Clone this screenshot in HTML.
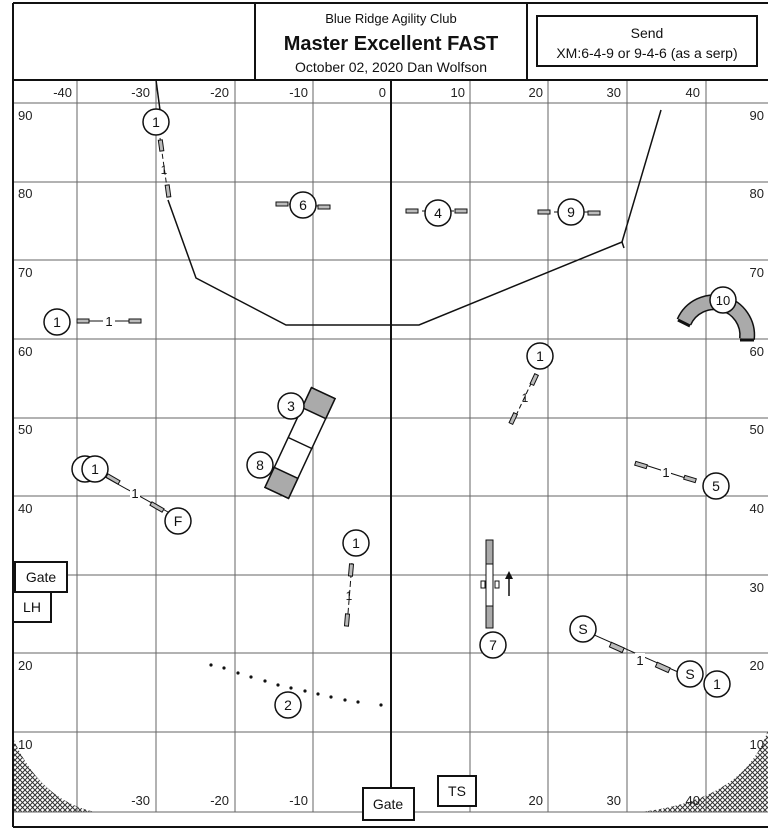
<!DOCTYPE html>
<html><head><meta charset="utf-8"><style>
html,body{margin:0;padding:0;background:#fff;}
svg{display:block;font-family:"Liberation Sans",Arial,sans-serif;}
</style></head><body>
<svg width="768" height="834" viewBox="0 0 768 834" xmlns="http://www.w3.org/2000/svg">
<defs>
<pattern id="hx" width="5" height="5" patternUnits="userSpaceOnUse">
<path d="M0 0L5 5M5 0L0 5" stroke="#333" stroke-width="1"/>
</pattern>
</defs>
<rect width="768" height="834" fill="#fff"/>
<!-- hatched corners -->
<path d="M13 738 Q40 800 95 812 L13 812Z" fill="url(#hx)"/>
<path d="M768 730 Q745 800 640 812 L768 812Z" fill="url(#hx)"/>
<!-- grid -->
<g stroke="#666" stroke-width="1">
<line x1="77" y1="80" x2="77" y2="812"/>
<line x1="156" y1="80" x2="156" y2="812"/>
<line x1="235" y1="80" x2="235" y2="812"/>
<line x1="313" y1="80" x2="313" y2="812"/>
<line x1="470" y1="80" x2="470" y2="812"/>
<line x1="548" y1="80" x2="548" y2="812"/>
<line x1="627" y1="80" x2="627" y2="812"/>
<line x1="706" y1="80" x2="706" y2="812"/>
<line x1="13" y1="103" x2="768" y2="103"/>
<line x1="13" y1="182" x2="768" y2="182"/>
<line x1="13" y1="260" x2="768" y2="260"/>
<line x1="13" y1="339" x2="768" y2="339"/>
<line x1="13" y1="418" x2="768" y2="418"/>
<line x1="13" y1="496" x2="768" y2="496"/>
<line x1="13" y1="575" x2="768" y2="575"/>
<line x1="13" y1="653" x2="768" y2="653"/>
<line x1="13" y1="732" x2="768" y2="732"/>
<line x1="13" y1="812" x2="768" y2="812"/>
</g>
<line x1="391" y1="80" x2="391" y2="790" stroke="#111" stroke-width="2"/>
<!-- frame & header -->
<g stroke="#111" stroke-width="2" fill="none">
<line x1="13" y1="3" x2="768" y2="3"/>
<line x1="13" y1="3" x2="13" y2="827"/>
<line x1="13" y1="827" x2="768" y2="827"/>
<line x1="13" y1="80" x2="768" y2="80"/>
<line x1="255" y1="3" x2="255" y2="80"/>
<line x1="527" y1="3" x2="527" y2="80"/>
<rect x="537" y="16" width="220" height="50"/>
</g>
<g font-size="13" fill="#111" text-anchor="middle">
<text x="391" y="23">Blue Ridge Agility Club</text>
<text x="391" y="50" font-size="20" font-weight="bold">Master Excellent FAST</text>
<text x="391" y="72" font-size="14">October 02, 2020  Dan Wolfson</text>
<text x="647" y="38" font-size="14">Send</text>
<text x="647" y="58" font-size="14">XM:6-4-9 or 9-4-6 (as a serp)</text>
</g>
<!-- axis labels -->
<g font-size="13" fill="#222" text-anchor="end">
<text x="72" y="97">-40</text><text x="150" y="97">-30</text><text x="229" y="97">-20</text><text x="308" y="97">-10</text><text x="386" y="97">0</text>
<text x="465" y="97">10</text><text x="543" y="97">20</text><text x="621" y="97">30</text><text x="700" y="97">40</text>
<text x="150" y="805">-30</text><text x="229" y="805">-20</text><text x="308" y="805">-10</text><text x="543" y="805">20</text><text x="621" y="805">30</text><text x="700" y="805">40</text>
<text x="764" y="120">90</text><text x="764" y="198">80</text><text x="764" y="277">70</text><text x="764" y="356">60</text><text x="764" y="434">50</text><text x="764" y="513">40</text><text x="764" y="592">30</text><text x="764" y="670">20</text><text x="764" y="749">10</text>
</g>
<g font-size="13" fill="#222">
<text x="18" y="120">90</text><text x="18" y="198">80</text><text x="18" y="277">70</text><text x="18" y="356">60</text><text x="18" y="434">50</text><text x="18" y="513">40</text><text x="18" y="670">20</text><text x="18" y="749">10</text>
</g>
<!-- fence -->
<polyline points="156,80 160,110" fill="none" stroke="#111" stroke-width="1.5"/>
<polyline points="168,200 196,278 286,325 419,325 622,242 624,248" fill="none" stroke="#111" stroke-width="1.5"/>
<line x1="622" y1="242" x2="661" y2="110" stroke="#111" stroke-width="1.5"/>
<!-- jumps -->
<g stroke="#111" stroke-width="1" fill="#bbb">
<line x1="160" y1="138" x2="168" y2="195" stroke-dasharray="5,3"/>
<rect x="159" y="140" width="4" height="11" transform="rotate(-8 161 145)"/>
<rect x="166" y="185" width="4" height="12" transform="rotate(-8 168 191)"/>
<line x1="289" y1="204" x2="318" y2="206"/><rect x="276" y="202" width="12" height="4"/><rect x="318" y="205" width="12" height="4"/>
<line x1="422" y1="211" x2="454" y2="211"/><rect x="406" y="209" width="12" height="4"/><rect x="455" y="209" width="12" height="4"/>
<line x1="554" y1="212" x2="588" y2="212"/><rect x="538" y="210" width="12" height="4"/><rect x="588" y="211" width="12" height="4"/>
<line x1="88" y1="321" x2="134" y2="321"/><rect x="77" y="319" width="12" height="4"/><rect x="129" y="319" width="12" height="4"/>
<line x1="535" y1="375" x2="513" y2="422" stroke-dasharray="5,3"/>
<rect x="532" y="374" width="4" height="11" transform="rotate(25 534 380)"/>
<rect x="511" y="413" width="4" height="11" transform="rotate(25 513 419)"/>
<line x1="105" y1="477" x2="168" y2="512"/>
<rect x="106" y="477" width="14" height="4" transform="rotate(30 113 479)"/>
<rect x="150" y="505" width="14" height="4" transform="rotate(30 157 507)"/>
<line x1="645" y1="465" x2="695" y2="481"/>
<rect x="635" y="463" width="12" height="4" transform="rotate(17 641 465)"/>
<rect x="684" y="477" width="12" height="4" transform="rotate(17 690 479)"/>
<line x1="352" y1="563" x2="347" y2="626" stroke-dasharray="6,3"/>
<rect x="349" y="564" width="4" height="12" transform="rotate(5 351 570)"/>
<rect x="345" y="614" width="4" height="12" transform="rotate(5 347 620)"/>
<line x1="592" y1="634" x2="678" y2="672"/>
<rect x="610" y="645" width="14" height="5" transform="rotate(24 617 647)"/>
<rect x="656" y="665" width="14" height="5" transform="rotate(24 663 667)"/>
</g>
<g font-size="13" fill="#111" text-anchor="middle">
<text x="164" y="174" font-size="12">1</text>
<rect x="103" y="314" width="12" height="14" fill="#fff"/><text x="109" y="326">1</text>
<text x="525" y="402" font-size="12">1</text>
<rect x="130" y="486" width="10" height="14" fill="#fff"/><text x="135" y="498">1</text>
<rect x="661" y="465" width="10" height="14" fill="#fff"/><text x="666" y="477">1</text>
<text x="349" y="600" font-size="12">1</text>
<rect x="635" y="653" width="10" height="14" fill="#fff"/><text x="640" y="665">1</text>
</g>
<!-- tunnel -->
<path d="M684 322 A33 33 0 0 1 747 339" fill="none" stroke="#111" stroke-width="16"/>
<path d="M684 322 A33 33 0 0 1 747 339" fill="none" stroke="#aaa" stroke-width="13"/>
<line x1="678" y1="320" x2="690" y2="326" stroke="#111" stroke-width="3"/>
<line x1="740" y1="340" x2="754" y2="340" stroke="#111" stroke-width="3"/>
<!-- dogwalk / aframe -->
<g transform="translate(300 443) rotate(25)" stroke="#111" stroke-width="1.5">
<rect x="-13" y="-55" width="26" height="110" fill="#fff"/>
<rect x="-13" y="-55" width="26" height="22" fill="#aaa"/>
<rect x="-13" y="33" width="26" height="22" fill="#aaa"/>
<line x1="-13" y1="0" x2="13" y2="0"/>
</g>
<!-- teeter -->
<g stroke="#111" stroke-width="1">
<rect x="486" y="540" width="7" height="88" fill="#fff"/>
<rect x="486" y="540" width="7" height="24" fill="#aaa"/>
<rect x="486" y="606" width="7" height="22" fill="#aaa"/>
<rect x="481" y="581" width="4" height="7" fill="#fff"/>
<rect x="495" y="581" width="4" height="7" fill="#fff"/>
<line x1="509" y1="596" x2="509" y2="578" stroke-width="1.5"/>
</g>
<path d="M509 571 L505 579 L513 579Z" fill="#111"/>
<!-- dots -->
<g fill="#111">
<circle cx="211" cy="665" r="1.6"/><circle cx="224" cy="668" r="1.6"/><circle cx="238" cy="673" r="1.6"/><circle cx="251" cy="677" r="1.6"/><circle cx="265" cy="681" r="1.6"/><circle cx="278" cy="685" r="1.6"/><circle cx="291" cy="688" r="1.6"/><circle cx="305" cy="691" r="1.6"/><circle cx="318" cy="694" r="1.6"/><circle cx="331" cy="697" r="1.6"/><circle cx="345" cy="700" r="1.6"/><circle cx="358" cy="702" r="1.6"/><circle cx="381" cy="705" r="1.6"/>
</g>
<!-- circles -->
<g stroke="#111" stroke-width="1.5" fill="#fff">
<circle cx="156" cy="122" r="13"/>
<circle cx="303" cy="205" r="13"/>
<circle cx="438" cy="213" r="13"/>
<circle cx="571" cy="212" r="13"/>
<circle cx="57" cy="322" r="13"/>
<circle cx="723" cy="300" r="13"/>
<circle cx="540" cy="356" r="13"/>
<circle cx="291" cy="406" r="13"/>
<circle cx="260" cy="465" r="13"/>
<circle cx="85" cy="469" r="13"/>
<circle cx="95" cy="469" r="13"/>
<circle cx="178" cy="521" r="13"/>
<circle cx="716" cy="486" r="13"/>
<circle cx="356" cy="543" r="13"/>
<circle cx="493" cy="645" r="13"/>
<circle cx="583" cy="629" r="13"/>
<circle cx="690" cy="674" r="13"/>
<circle cx="717" cy="684" r="13"/>
<circle cx="288" cy="705" r="13"/>
</g>
<g font-size="14" fill="#111" text-anchor="middle">
<text x="156" y="127">1</text><text x="303" y="210">6</text><text x="438" y="218">4</text><text x="571" y="217">9</text>
<text x="57" y="327">1</text><text x="723" y="305" font-size="13">10</text><text x="540" y="361">1</text>
<text x="291" y="411">3</text><text x="260" y="470">8</text><text x="95" y="474">1</text><text x="178" y="526">F</text>
<text x="716" y="491">5</text><text x="356" y="548">1</text><text x="493" y="650">7</text><text x="583" y="634">S</text>
<text x="690" y="679">S</text><text x="717" y="689">1</text><text x="288" y="710">2</text>
</g>
<!-- gates -->
<g stroke="#111" stroke-width="2" fill="#fff">
<rect x="15" y="562" width="52" height="30"/>
<rect x="13" y="592" width="38" height="30"/>
<rect x="363" y="788" width="51" height="32"/>
<rect x="438" y="776" width="38" height="30"/>
</g>
<g font-size="14" fill="#111" text-anchor="middle">
<text x="41" y="582">Gate</text><text x="32" y="612">LH</text>
<text x="388" y="809">Gate</text><text x="457" y="796">TS</text>
</g>
</svg>
</body></html>
